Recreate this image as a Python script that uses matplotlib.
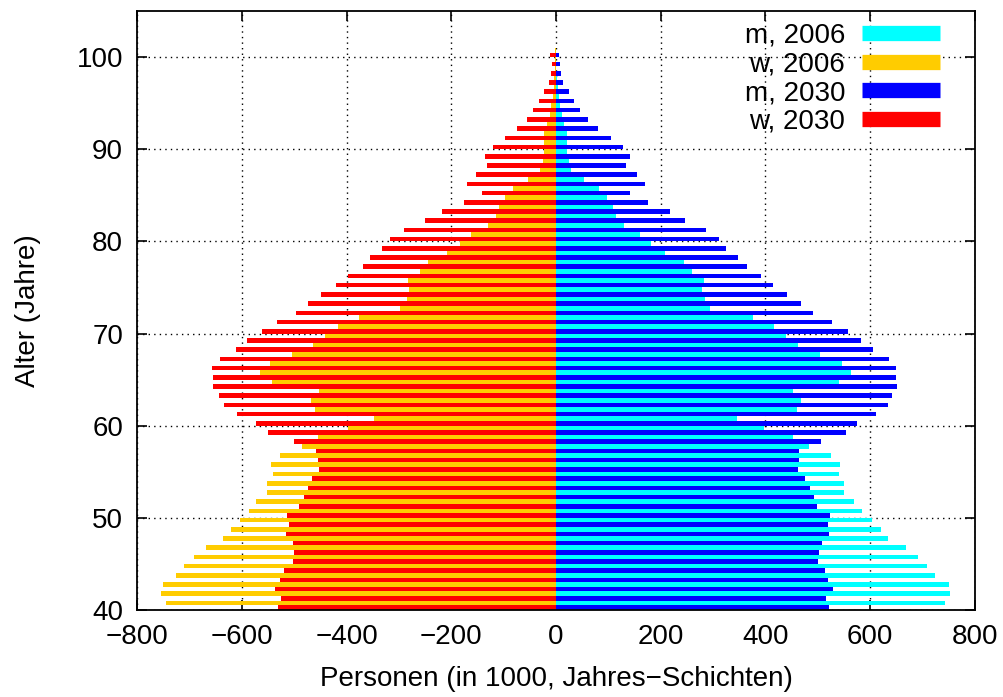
import numpy as np
import matplotlib
matplotlib.use("Agg")
import matplotlib.pyplot as plt
from matplotlib.lines import Line2D

plt.rcParams['font.family'] = ['Liberation Sans', 'DejaVu Sans']

ages = np.arange(40, 101)

# population per age year, in 1000
w_2006 = [744, 755, 750, 725, 711, 692, 669, 636, 621, 604,
          586, 572, 552, 552, 540, 544, 527, 485, 454, 397,
          347, 460, 467, 452, 542, 565, 547, 504, 464, 441,
          416, 377, 297, 285, 280, 283, 260, 245, 209, 184,
          162, 130, 114, 108, 98, 82, 54, 30, 24, 22,
          22, 22, 17, 12, 9, 6, 4, 3, 2, 1, 1]
m_2006 = [742, 753, 750, 724, 709, 691, 669, 634, 620, 604,
          584, 570, 551, 551, 540, 542, 526, 484, 453, 397,
          346, 460, 467, 452, 541, 563, 547, 504, 463, 440,
          416, 377, 295, 284, 279, 282, 259, 244, 208, 182,
          160, 130, 114, 108, 98, 82, 53, 29, 24, 21,
          21, 21, 16, 11, 8, 5, 3, 2, 1, 1, 1]
w_2030 = [531, 525, 537, 527, 519, 503, 500, 503, 515, 510,
          514, 490, 481, 474, 465, 453, 455, 458, 501, 549,
          572, 609, 634, 643, 655, 655, 656, 641, 611, 590,
          562, 533, 496, 473, 448, 420, 397, 369, 355, 332,
          317, 290, 250, 218, 176, 141, 169, 153, 131, 136,
          121, 98, 75, 56, 43, 32, 22, 13, 10, 7, 11]
m_2030 = [521, 515, 529, 520, 513, 501, 502, 508, 522, 519,
          524, 499, 493, 486, 475, 462, 464, 465, 506, 553,
          575, 611, 634, 641, 652, 650, 650, 636, 606, 583,
          557, 528, 490, 467, 442, 415, 392, 364, 348, 325,
          311, 286, 247, 217, 175, 141, 170, 155, 133, 141,
          128, 105, 81, 61, 46, 35, 24, 14, 10, 7, 5]

labels = ['m, 2006', 'w, 2006', 'm, 2030', 'w, 2030']
colors = ['#00ffff', '#ffcc00', '#0000ff', '#ff0000']

fig = plt.figure(figsize=(10.04, 6.97), dpi=100)
ax = fig.add_axes([0.1365, 0.125, 0.8345, 0.859])
ax.set_axisbelow(True)

# 2006 bars sit in the upper half of each year, 2030 in the lower half
ax.barh(ages + 0.75, m_2006, height=0.5, color=colors[0], linewidth=0)
ax.barh(ages + 0.75, -np.array(w_2006), height=0.5, color=colors[1], linewidth=0)
ax.barh(ages + 0.25, m_2030, height=0.5, color=colors[2], linewidth=0)
ax.barh(ages + 0.25, -np.array(w_2030), height=0.5, color=colors[3], linewidth=0)

ax.set_xlim(-800, 800)
ax.set_ylim(40, 105)
ax.set_xticks(np.arange(-800, 801, 200))
ax.set_yticks(np.arange(40, 101, 10))
ax.grid(True, color='black', linestyle=(0, (1, 3)), linewidth=1.0)
ax.tick_params(direction='in', top=True, right=True, length=7, width=1.2,
               labelsize=20, pad=10)
for s in ax.spines.values():
    s.set_linewidth(1.3)

ax.set_xlabel('Personen (in 1000, Jahres\u2212Schichten)', fontsize=20, labelpad=12)
ax.set_ylabel('Alter (Jahre)', fontsize=20, labelpad=26)

handles = [Line2D([], [], color=c, linewidth=11, solid_capstyle='butt') for c in colors]
ax.legend(handles, labels, loc='upper right', bbox_to_anchor=(0.958, 0.981),
          frameon=False, markerfirst=False, fontsize=20, handlelength=2.8,
          handletextpad=0.6, labelspacing=0.1, borderpad=0, borderaxespad=0)

fig.savefig('out.png', dpi=100)
